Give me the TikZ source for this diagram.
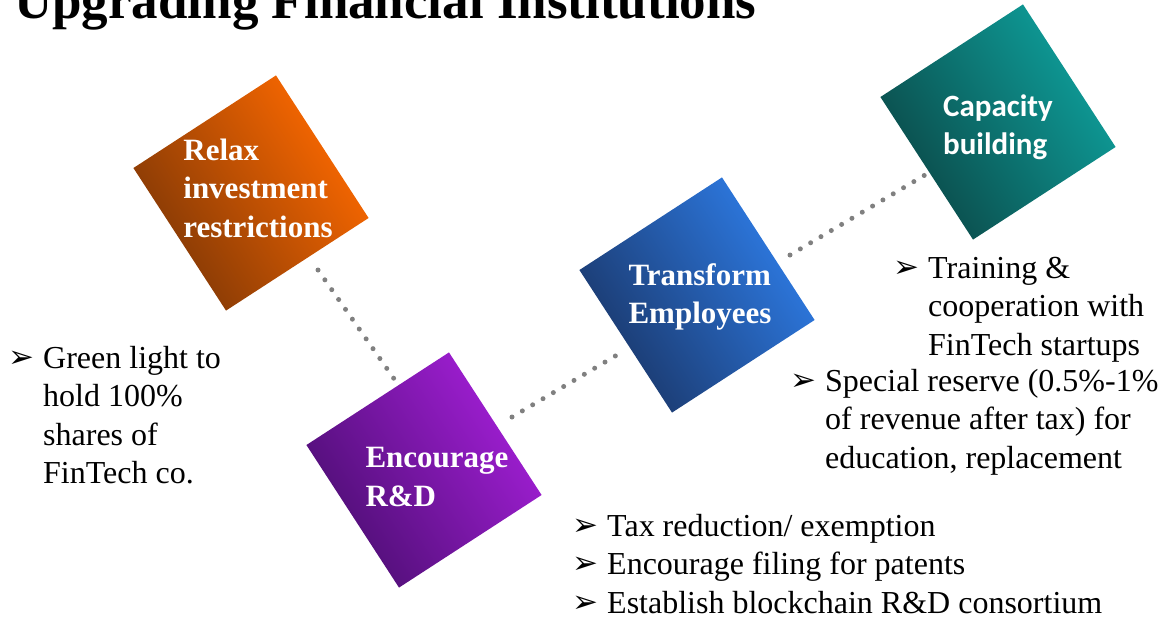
\documentclass[tikz,border=0pt]{standalone}
\usepackage{fontspec}
\setmainfont{Liberation Serif}
\newfontfamily\calibrifont{Carlito}
\newfontfamily\dingfont{DejaVu Sans}
\usepackage{tikz}
\usetikzlibrary{calc}

\definecolor{orangedark}{HTML}{7F3706}
\definecolor{orangemid}{HTML}{CC6E2A}
\definecolor{orangelight}{HTML}{FF6A00}
\definecolor{violetdark}{HTML}{4C0E72}
\definecolor{violetmid}{HTML}{9140BE}
\definecolor{violetlight}{HTML}{A41FD8}
\definecolor{bluedark}{HTML}{1A3668}
\definecolor{bluemid}{HTML}{4A78BE}
\definecolor{bluelight}{HTML}{2E7DE8}
\definecolor{tealdark}{HTML}{0B4847}
\definecolor{tealmid}{HTML}{1C8884}
\definecolor{teallight}{HTML}{0EA09C}

\tikzset{
  tile/.style n args={3}{rectangle, minimum size=170pt, inner sep=0pt, rotate=33,
    left color=#1, middle color=#2, right color=#3, shading angle=123},
  tiletext/.style={text=white, align=left, inner sep=0pt,
    font=\fontsize{31}{38.5}\selectfont\bfseries},
  link/.style={draw=gray, line width=5pt, line cap=round, dash pattern=on 0pt off 12pt},
  bullets/.style={anchor=north west, inner sep=0pt, font=\fontsize{32}{38.5}\selectfont}
}
\newcommand{\arrowbul}{\makebox[35pt][l]{\raisebox{1pt}{\dingfont\fontsize{31}{31}\selectfont ➢}}}

\begin{document}
\begin{tikzpicture}[x=1pt, y=-1pt]
\path [use as bounding box, clip] (0,0) rectangle (1163,619);

\node [anchor=base west, inner sep=0pt, font=\fontsize{53}{60}\selectfont\bfseries] (title) at (14,18) {Upgrading Financial Institutions};

\node [tile={orangedark}{orangemid}{orangelight}] (relax) at (251,193) {};
\node [tile={violetdark}{violetmid}{violetlight}] (rnd) at (424,470) {};
\node [tile={bluedark}{bluemid}{bluelight}] (employ) at (697,295) {};
\node [tile={tealdark}{tealmid}{teallight}] (capacity) at (998,122) {};

\node [tiletext] (relaxtext) at ($(relax)+(7,-5)$) {Relax\\investment\\restrictions};
\node [tiletext] (rndtext) at ($(rnd)+(13,7)$) {Encourage\\R\&D};
\node [tiletext] (employtext) at ($(employ)+(3,2)$) {Transform\\Employees};
\node [tiletext, font=\fontsize{31}{38.5}\selectfont\calibrifont\bfseries] (capacitytext) at ($(capacity)+(0,5)$) {Capacity\\building};

\draw [link] ($(relax)+(67,77)$) -- ($(rnd)+(-27,-87)$);
\draw [link] ($(rnd)+(88,-53)$) -- ($(employ)+(-80,60)$);
\draw [link] ($(employ)+(93,-40)$) -- ($(capacity)+(-73,53)$);

\node [bullets] (relaxlist) at (8,341) {\begin{tabular}{@{}l@{}l@{}}
\arrowbul & Green light to\\ & hold 100\%\\ & shares of\\ & FinTech co.
\end{tabular}};
\node [bullets] (rndlist) at (572,509) {\begin{tabular}{@{}l@{}l@{}}
\arrowbul & Tax reduction/ exemption\\
\arrowbul & Encourage filing for patents\\
\arrowbul & Establish blockchain R\&D consortium
\end{tabular}};
\node [bullets] (capacitylist) at (893,251) {\begin{tabular}{@{}l@{}l@{}}
\arrowbul & Training \&\\ & cooperation with\\ & FinTech startups
\end{tabular}};
\node [bullets] (employlist) at (790,364) {\begin{tabular}{@{}l@{}l@{}}
\arrowbul & Special reserve (0.5\%-1\%\\ & of revenue after tax) for\\ & education, replacement
\end{tabular}};
\end{tikzpicture}
\end{document}
